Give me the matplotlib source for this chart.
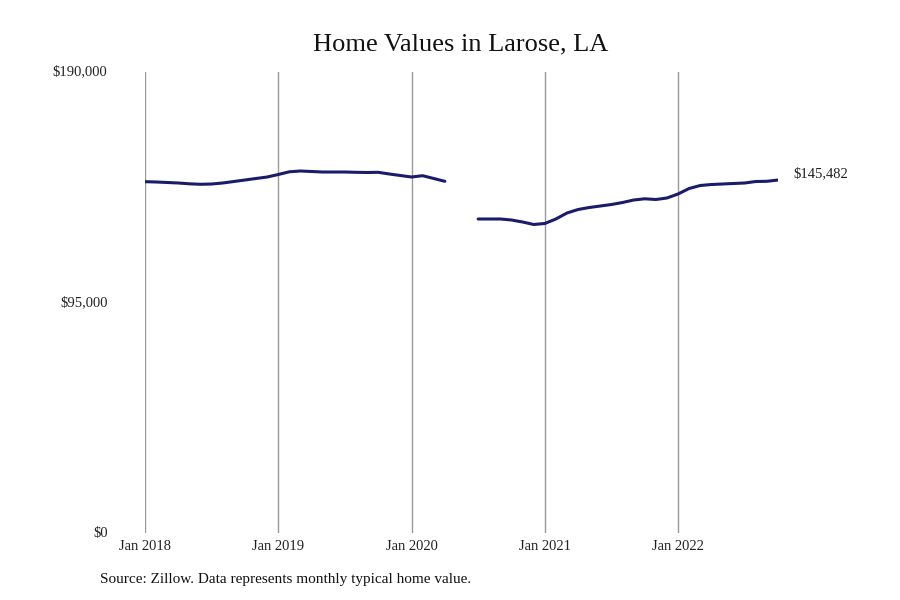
import numpy as np
import matplotlib
matplotlib.use("Agg")
import matplotlib.pyplot as plt
from matplotlib.ticker import FuncFormatter

plt.rcParams['font.family'] = ['Liberation Serif', 'DejaVu Serif']

# months since Jan 2018, monthly typical home value (gap May-Jun 2020)
values_2018_2020 = [144790, 144665, 144460, 144250, 143920, 143720, 143840, 144250,
                    144870, 145490, 146110, 146720, 147750, 148870, 149200, 148990,
                    148780, 148780, 148780, 148660, 148580, 148660, 147960, 147340,
                    146720, 147260, 146110, 144950]
values_gap = [np.nan, np.nan]
values_2020_2022 = [129415, 129415, 129415, 129000, 128180, 127150, 127560, 129415,
                    131890, 133330, 134150, 134770, 135390, 136210, 137240, 137740,
                    137450, 138070, 139720, 141990, 143220, 143630, 143840, 144050,
                    144250, 144870, 144950, 145482]

values = np.array(values_2018_2020 + values_gap + values_2020_2022, dtype=float)
months = np.arange(len(values))

tick_pos = [0, 12, 24, 36, 48]
tick_labels = ['Jan 2018', 'Jan 2019', 'Jan 2020', 'Jan 2021', 'Jan 2022']
y_ticks = [0, 95000, 190000]

fig = plt.figure(figsize=(9, 6), dpi=100)
ax = fig.add_axes([145/900, 67/600, (778-145)/900, 461/600])

ax.plot(months, values, color='#1b1b6b', lw=2.2, solid_capstyle='round')

ax.set_xlim(0, months[-1])
ax.set_ylim(0, 190000)
ax.set_xticks(tick_pos)
ax.set_xticklabels(tick_labels)
ax.set_yticks(y_ticks)
ax.yaxis.set_major_formatter(FuncFormatter(lambda v, p: f'${v:,.0f}'))
ax.tick_params(axis='both', length=0, labelsize=10.5, colors='#222222')
ax.tick_params(axis='y', pad=27)
ax.tick_params(axis='x', pad=5)
for lbl in ax.get_yticklabels():
    lbl.set_verticalalignment('center')

ax.grid(axis='x', color='#999999', lw=1)
ax.grid(axis='y', visible=False)
for s in ax.spines.values():
    s.set_visible(False)

last = values[-1]
ax.annotate(f'${last:,.0f}', xy=(months[-1], last), xytext=(15, 6),
            textcoords='offset pixels', fontsize=10.5, color='#222222',
            va='center', ha='left', annotation_clip=False)

fig.text(461/900, 1 - 44/600, 'Home Values in Larose, LA', ha='center', va='center',
         fontsize=19, color='#111111')
fig.text(100/900, 1 - 580/600, 'Source: Zillow. Data represents monthly typical home value.',
         ha='left', va='center', fontsize=11, color='#111111')

fig.savefig('out.png', dpi=100)
